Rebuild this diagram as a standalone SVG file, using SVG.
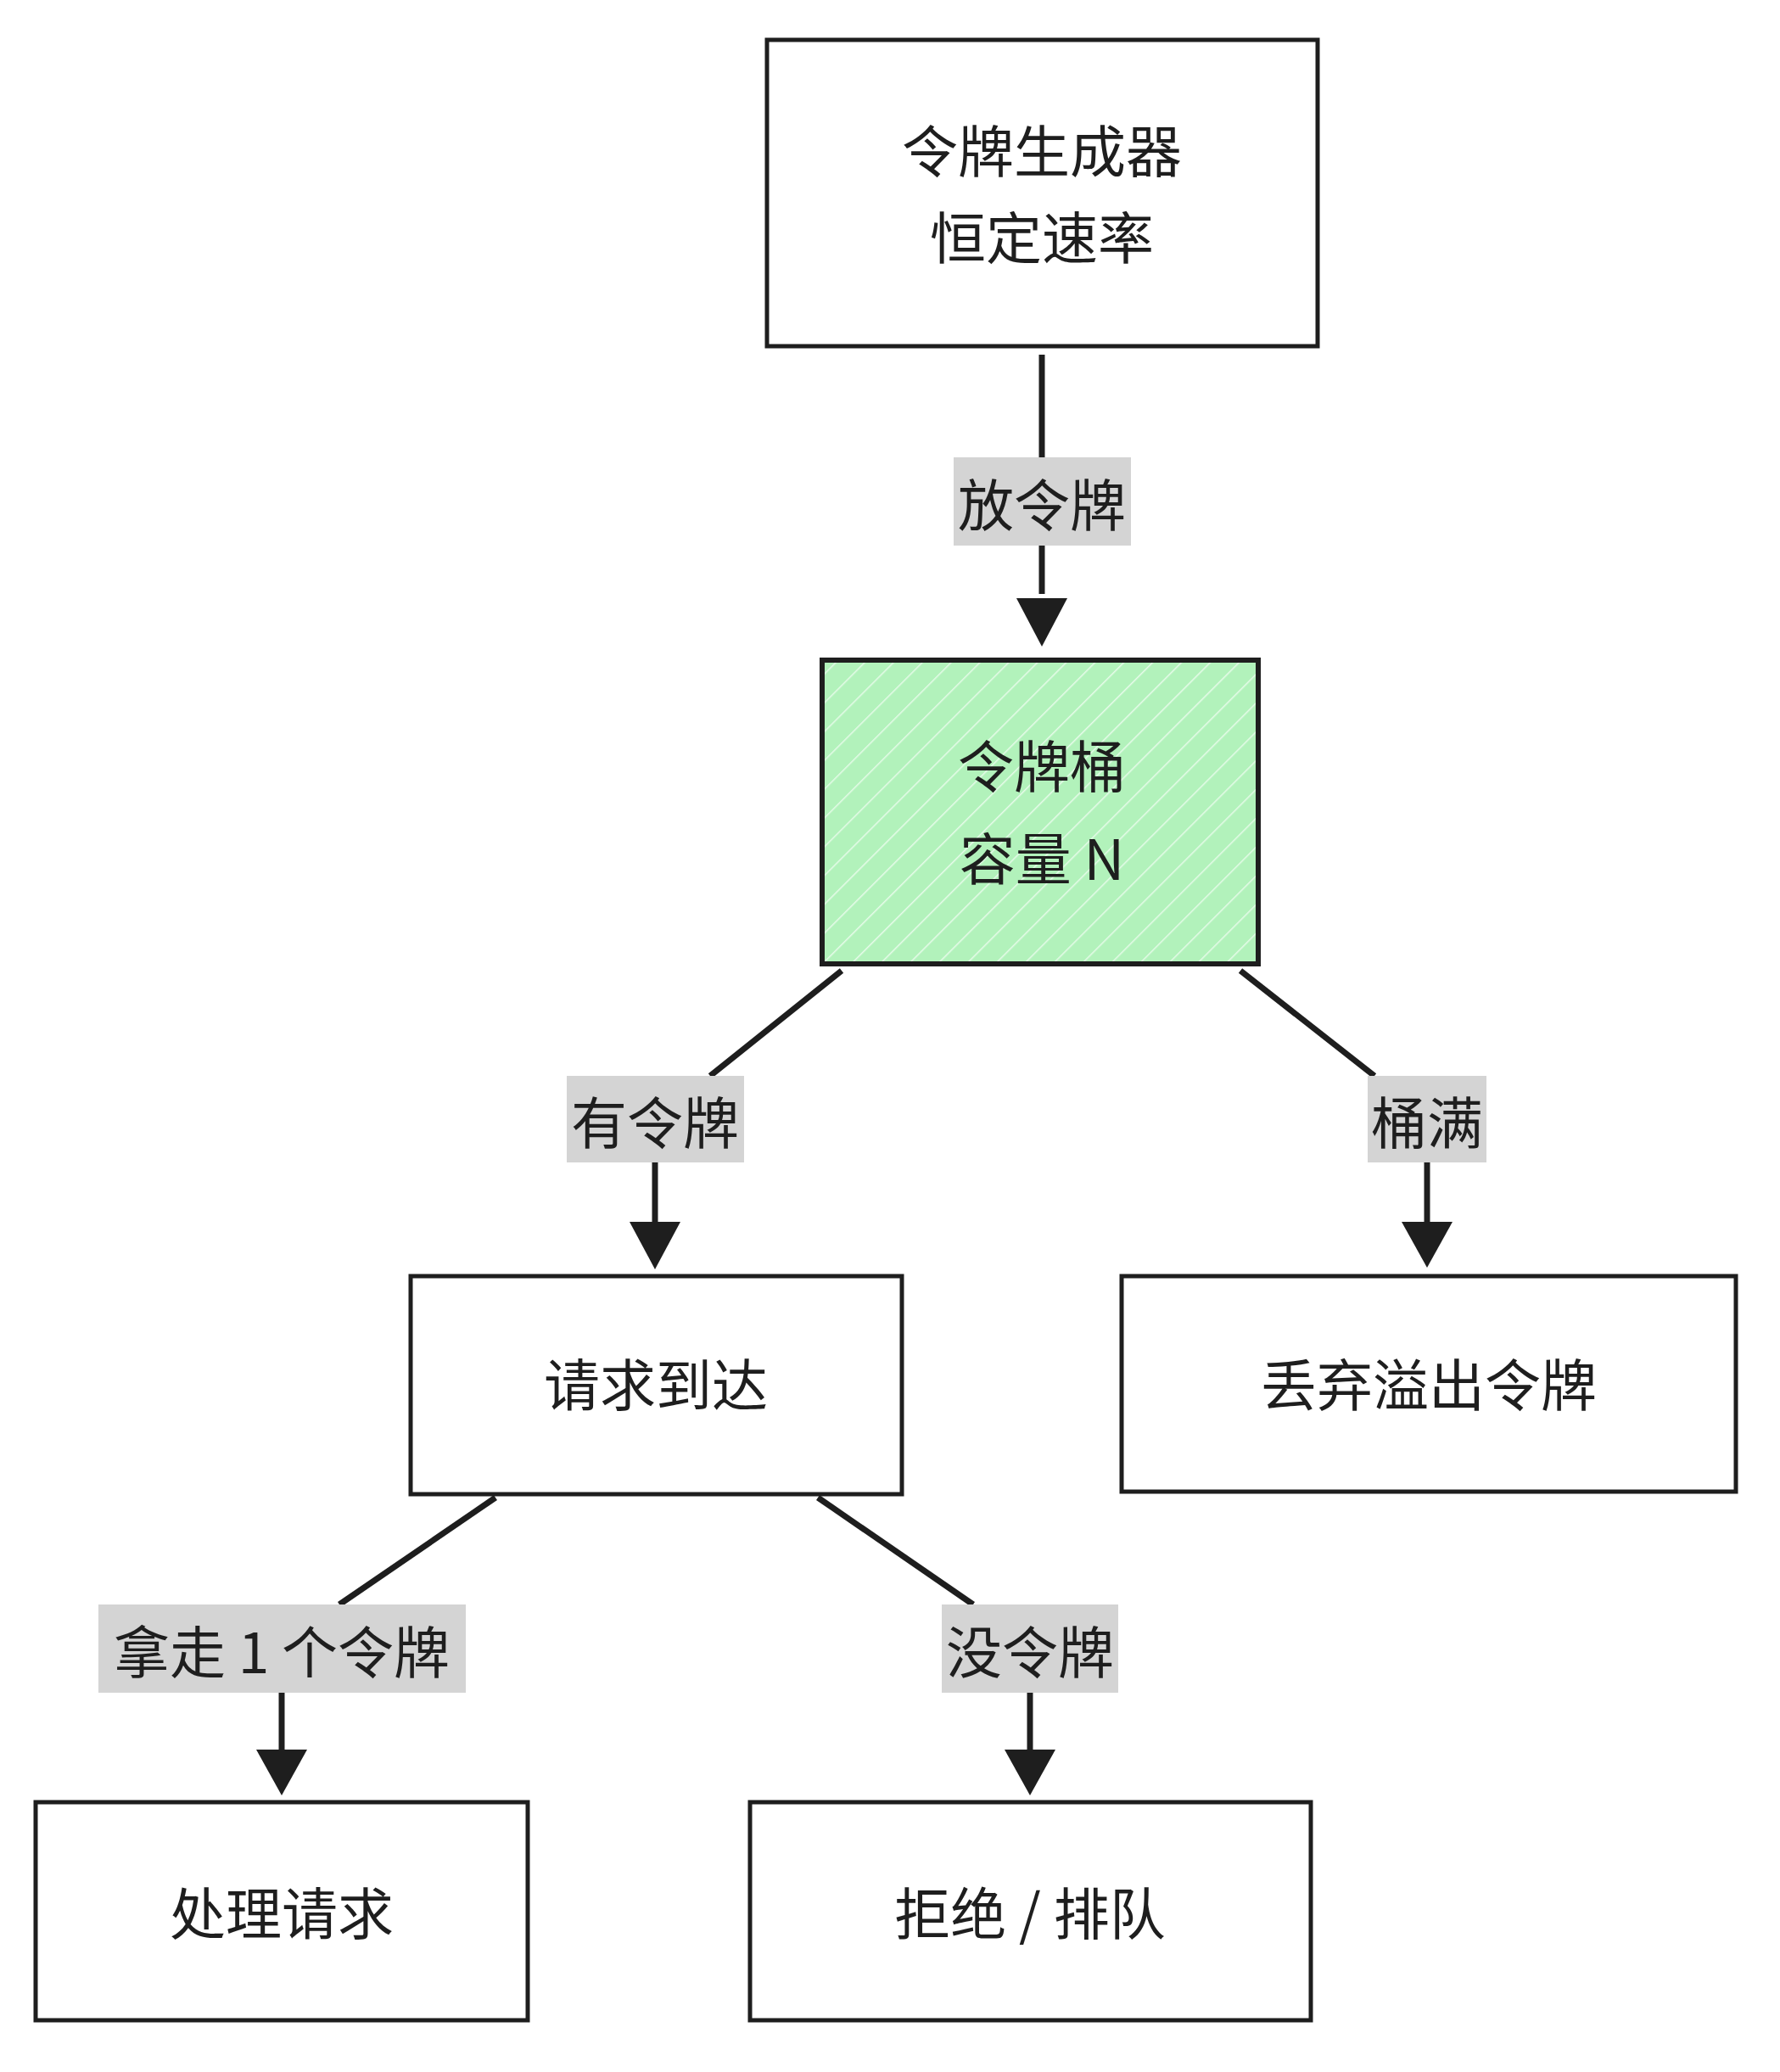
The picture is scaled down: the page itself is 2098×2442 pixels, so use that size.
<svg xmlns="http://www.w3.org/2000/svg" width="2098" height="2442" viewBox="0 0 2098 2442">
<style>
.n{fill:#fff;stroke:#1e1e1e;stroke-width:5}
.t{font-family:"Noto Sans CJK SC","Noto Sans",sans-serif;font-size:66px;fill:#1e1e1e;text-anchor:middle;dominant-baseline:central}
.lb{fill:#d4d4d4}
.c{stroke:#1e1e1e;stroke-width:7;fill:none}
</style>
<defs>
<marker id="ah" markerWidth="10" markerHeight="10" refX="9" refY="5" orient="auto" markerUnits="userSpaceOnUse" viewBox="0 0 10 10">
<path d="M0,0 L10,5 L0,10 z" fill="#1e1e1e"/>
</marker>
<pattern id="hatch" width="24" height="24" patternUnits="userSpaceOnUse" patternTransform="rotate(45)">
<rect width="24" height="24" fill="#b2f2bb"/>
<line x1="0" y1="0" x2="0" y2="24" stroke="#e6fbe9" stroke-width="3"/>
</pattern>
</defs>
<rect width="2098" height="2442" fill="#fff"/>
<g id="connectors">
<line class="c" x1="1228" y1="418" x2="1228" y2="539"/>
<line class="c" x1="1228" y1="643" x2="1228" y2="700"/>
<path d="M1198,705 L1258,705 L1228,762 z" fill="#1e1e1e"/>
<line class="c" x1="992" y1="1144" x2="837" y2="1268"/>
<line class="c" x1="772" y1="1370" x2="772" y2="1440"/>
<path d="M742,1440 L802,1440 L772,1496 z" fill="#1e1e1e"/>
<line class="c" x1="1462" y1="1144" x2="1620" y2="1268"/>
<line class="c" x1="1682" y1="1370" x2="1682" y2="1440"/>
<path d="M1652,1440 L1712,1440 L1682,1494 z" fill="#1e1e1e"/>
<line class="c" x1="584" y1="1765" x2="400" y2="1891"/>
<line class="c" x1="332" y1="1995" x2="332" y2="2062"/>
<path d="M302,2062 L362,2062 L332,2116 z" fill="#1e1e1e"/>
<line class="c" x1="964" y1="1765" x2="1147" y2="1891"/>
<line class="c" x1="1214" y1="1995" x2="1214" y2="2062"/>
<path d="M1184,2062 L1244,2062 L1214,2116 z" fill="#1e1e1e"/>
<rect class="lb" x="1124" y="539" width="209" height="104"/>
<text class="t" x="1228" y="591">放令牌</text>
<rect class="lb" x="668" y="1268" width="209" height="102"/>
<text class="t" x="772" y="1319">有令牌</text>
<rect class="lb" x="1612" y="1268" width="140" height="102"/>
<text class="t" x="1682" y="1319">桶满</text>
<rect class="lb" x="116" y="1891" width="433" height="104"/>
<text class="t" x="332" y="1943">拿走 1 个令牌</text>
<rect class="lb" x="1110" y="1891" width="208" height="104"/>
<text class="t" x="1214" y="1943">没令牌</text>
</g>
<g id="gen"><rect class="n" x="904" y="47" width="649" height="361"/>
<text class="t" x="1228" y="174">令牌生成器</text><text class="t" x="1228" y="276">恒定速率</text></g>
<g id="bucket"><rect x="969" y="778" width="514" height="358" fill="url(#hatch)" stroke="#1e1e1e" stroke-width="6"/>
<text class="t" x="1228" y="899">令牌桶</text><text class="t" x="1228" y="1008">容量 N</text></g>
<g id="req"><rect class="n" x="484" y="1504" width="579" height="257"/>
<text class="t" x="773" y="1628">请求到达</text></g>
<g id="drop"><rect class="n" x="1322" y="1504" width="724" height="254"/>
<text class="t" x="1684" y="1628">丢弃溢出令牌</text></g>
<g id="proc"><rect class="n" x="42" y="2124" width="580" height="257"/>
<text class="t" x="332" y="2251">处理请求</text></g>
<g id="reject"><rect class="n" x="884" y="2124" width="661" height="257"/>
<text class="t" x="1214" y="2251">拒绝 / 排队</text></g>
</svg>
